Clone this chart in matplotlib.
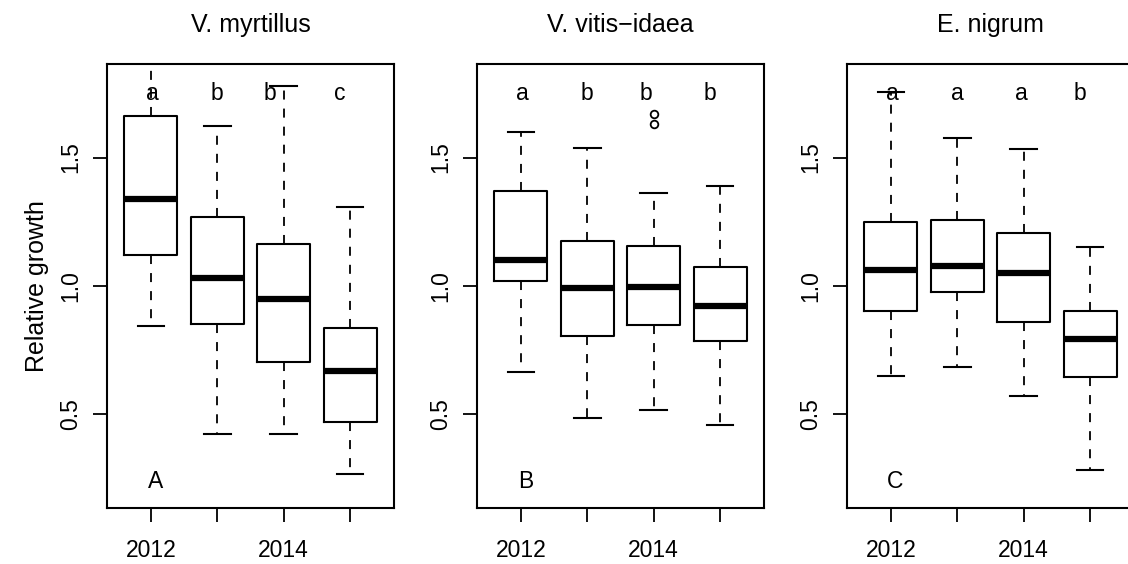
import matplotlib
matplotlib.use("Agg")
import matplotlib.pyplot as plt

plt.rcParams['font.family'] = ['Liberation Sans', 'DejaVu Sans']

years = ["2012", "2013", "2014", "2015"]
species = ["V. myrtillus", "V. vitis\u2212idaea", "E. nigrum"]
panel_tags = ["A", "B", "C"]

# five-number summaries per species, one entry per year
whisker_low = [
    [0.844, 0.425, 0.423, 0.268],
    [0.665, 0.486, 0.517, 0.458],
    [0.649, 0.684, 0.571, 0.284],
]
q1 = [
    [1.121, 0.851, 0.703, 0.472],
    [1.021, 0.805, 0.848, 0.787],
    [0.904, 0.975, 0.860, 0.647],
]
median = [
    [1.339, 1.030, 0.949, 0.671],
    [1.101, 0.991, 0.997, 0.923],
    [1.062, 1.078, 1.052, 0.795],
]
q3 = [
    [1.663, 1.267, 1.163, 0.835],
    [1.371, 1.176, 1.157, 1.075],
    [1.248, 1.258, 1.205, 0.903],
]
whisker_high = [
    [1.95, 1.622, 1.777, 1.306],
    [1.599, 1.538, 1.362, 1.391],
    [1.755, 1.576, 1.532, 1.151],
]
outliers = [
    [[], [], [], []],
    [[], [], [1.668, 1.629], []],
    [[], [], [], []],
]

# significance letters and their x positions
letters = [
    ["a", "b", "b", "c"],
    ["a", "b", "b", "b"],
    ["a", "a", "a", "b"],
]
letter_x = [
    [1.03, 2.0, 2.8, 3.85],
    [1.03, 2.0, 2.88, 3.85],
    [1.03, 2.0, 2.97, 3.85],
]
letter_y = 1.75
tag_y = 0.24

W, H = 1128, 564
fig = plt.figure(figsize=(W / 100, H / 100), dpi=100)
lefts = [107, 477, 847]
ax_w = 287
ax_top, ax_bot = 64, 508

fs = 16.5
fs_title = 18
for i in range(3):
    ax = fig.add_axes([lefts[i] / W, 1 - ax_bot / H, ax_w / W, (ax_bot - ax_top) / H])
    stats = []
    for j in range(4):
        stats.append(dict(whislo=whisker_low[i][j], q1=q1[i][j], med=median[i][j],
                          q3=q3[i][j], whishi=whisker_high[i][j],
                          fliers=outliers[i][j], label=years[j]))
    ax.bxp(stats, positions=[1, 2, 3, 4], widths=0.8, capwidths=0.4,
           showfliers=True, patch_artist=False,
           boxprops=dict(color="black", linewidth=1.5),
           medianprops=dict(color="black", linewidth=4.5, solid_capstyle="butt"),
           whiskerprops=dict(color="black", linewidth=1.3, linestyle=(0, (5, 5))),
           capprops=dict(color="black", linewidth=1.5),
           flierprops=dict(marker="o", markerfacecolor="none", markeredgecolor="black",
                           markersize=5.5, markeredgewidth=1.3))
    ax.set_xlim(0.34, 4.66)
    ax.set_ylim(0.136, 1.864)
    ax.set_xticks([1, 2, 3, 4])
    ax.set_xticklabels(["2012", "", "2014", ""], fontsize=fs)
    ax.set_yticks([0.5, 1.0, 1.5])
    ax.set_yticklabels(["0.5", "1.0", "1.5"], fontsize=fs, rotation=90, va="center")
    ax.tick_params(axis="both", length=10, width=1.3, pad=8, direction="out")
    ax.tick_params(axis="x", pad=12)
    for s in ax.spines.values():
        s.set_linewidth(1.5)
    ax.set_title(species[i], fontsize=fs_title, pad=23)
    for j in range(4):
        ax.text(letter_x[i][j], letter_y, letters[i][j], ha="center", va="center", fontsize=fs)
    ax.text(1.07, tag_y, panel_tags[i], ha="center", va="center", fontsize=fs)
    if i == 0:
        ax.set_ylabel("Relative growth", fontsize=fs_title, labelpad=7)

fig.savefig("out.png", dpi=100)
